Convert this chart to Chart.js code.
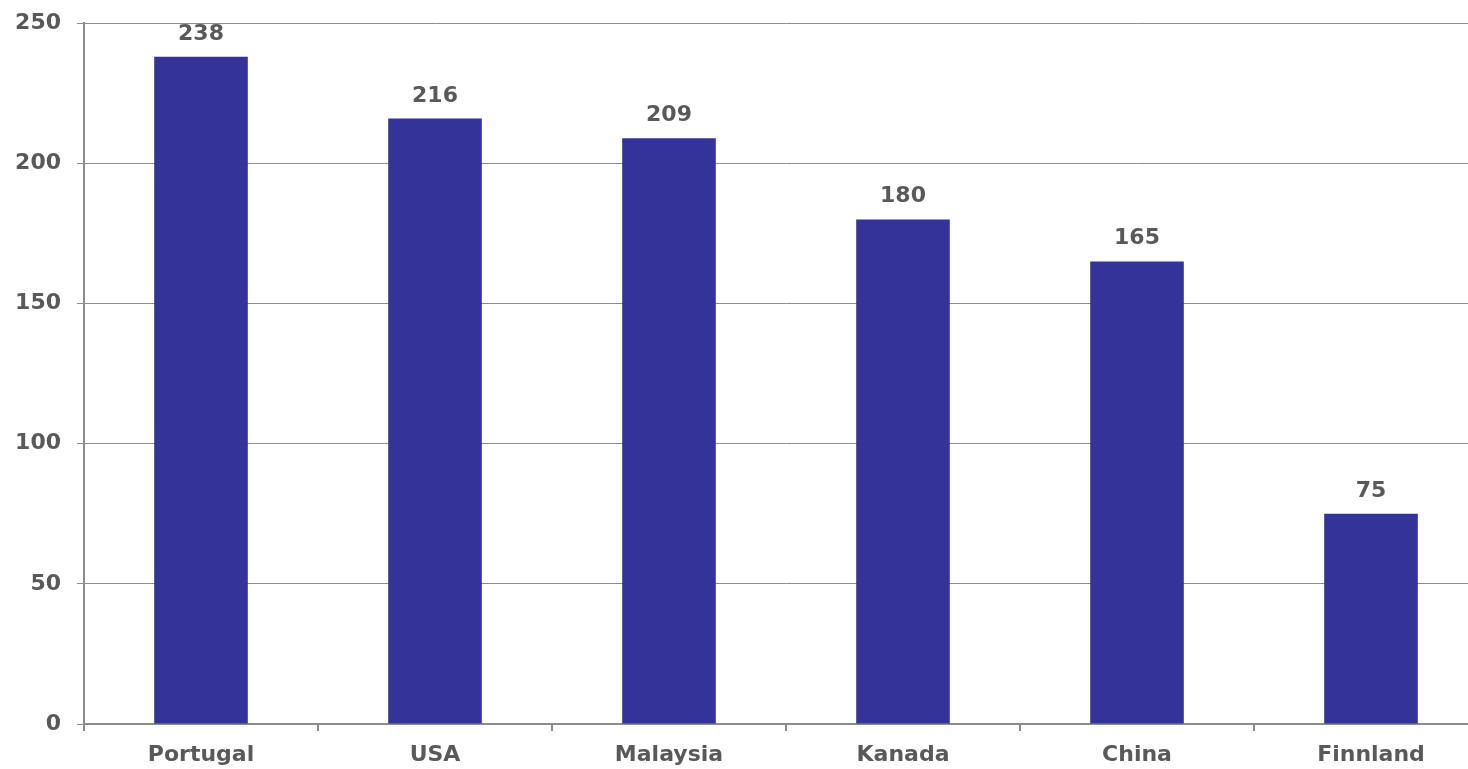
<!DOCTYPE html>
<html>
<head>
<meta charset="utf-8">
<script src="https://cdn.jsdelivr.net/npm/chart.js@4/dist/chart.umd.min.js"></script>
<style>
  html, body { margin:0; padding:0; background:#fff; overflow:hidden; }
  #wrap { width:1490px; height:775px; position:relative; margin-top:-6px; }
</style>
</head>
<body>
<div id="wrap"><canvas id="chart"></canvas></div>
<script>
const countries = ["Portugal", "USA", "Malaysia", "Kanada", "China", "Finnland"];
const values = [238, 216, 209, 180, 165, 75];
const yMax = 250;
const yStep = 50;

const textColor = "#595959";
const gridColor = "#8c8c8c";
const barColor = "#333399";
const font = { family: "'DejaVu Sans', Verdana, sans-serif", size: 22, weight: "bold" };

/* value labels above bars */
const valueLabels = {
  id: "valueLabels",
  afterDatasetsDraw(chart){
    const {ctx} = chart;
    const meta = chart.getDatasetMeta(0);
    ctx.save();
    ctx.font = "bold 22px 'DejaVu Sans', Verdana, sans-serif";
    ctx.fillStyle = textColor;
    ctx.textAlign = "center";
    ctx.textBaseline = "alphabetic";
    meta.data.forEach((bar, i) => {
      ctx.fillText(values[i], bar.x, bar.y - 17);
    });
    ctx.restore();
  }
};

const ctx = document.getElementById("chart").getContext("2d");

new Chart(ctx, {
  type: "bar",
  data: {
    labels: countries,
    datasets: [{
      data: values,
      backgroundColor: barColor,
      borderWidth: 0,
      barPercentage: 0.4,
      categoryPercentage: 1.0
    }]
  },
  options: {
    responsive: true,
    maintainAspectRatio: false,
    animation: false,
    layout: { padding: { top: 18, right: 2, bottom: 0, left: 0 } },
    plugins: {
      legend: { display: false },
      tooltip: { enabled: false }
    },
    scales: {
      x: {
        offset: true,
        grid: {
          offset: true,
          drawOnChartArea: false,
          drawTicks: true,
          tickLength: 7,
          color: gridColor,
          lineWidth: 2
        },
        border: { display: true, color: gridColor, width: 2 },
        ticks: { color: textColor, font: font, padding: 11, maxRotation: 0 },
        afterFit(scale){ scale.height = 45; }
      },
      y: {
        min: 0,
        max: yMax,
        ticks: { stepSize: yStep, color: textColor, font: font, padding: 16 },
        grid: {
          color: gridColor,
          lineWidth: 1,
          tickLength: 7
        },
        border: { display: true, color: gridColor, width: 2 },
        afterFit(scale){ scale.width = 84; }
      }
    }
  },
  plugins: [valueLabels]
});
</script>
</body>
</html>
